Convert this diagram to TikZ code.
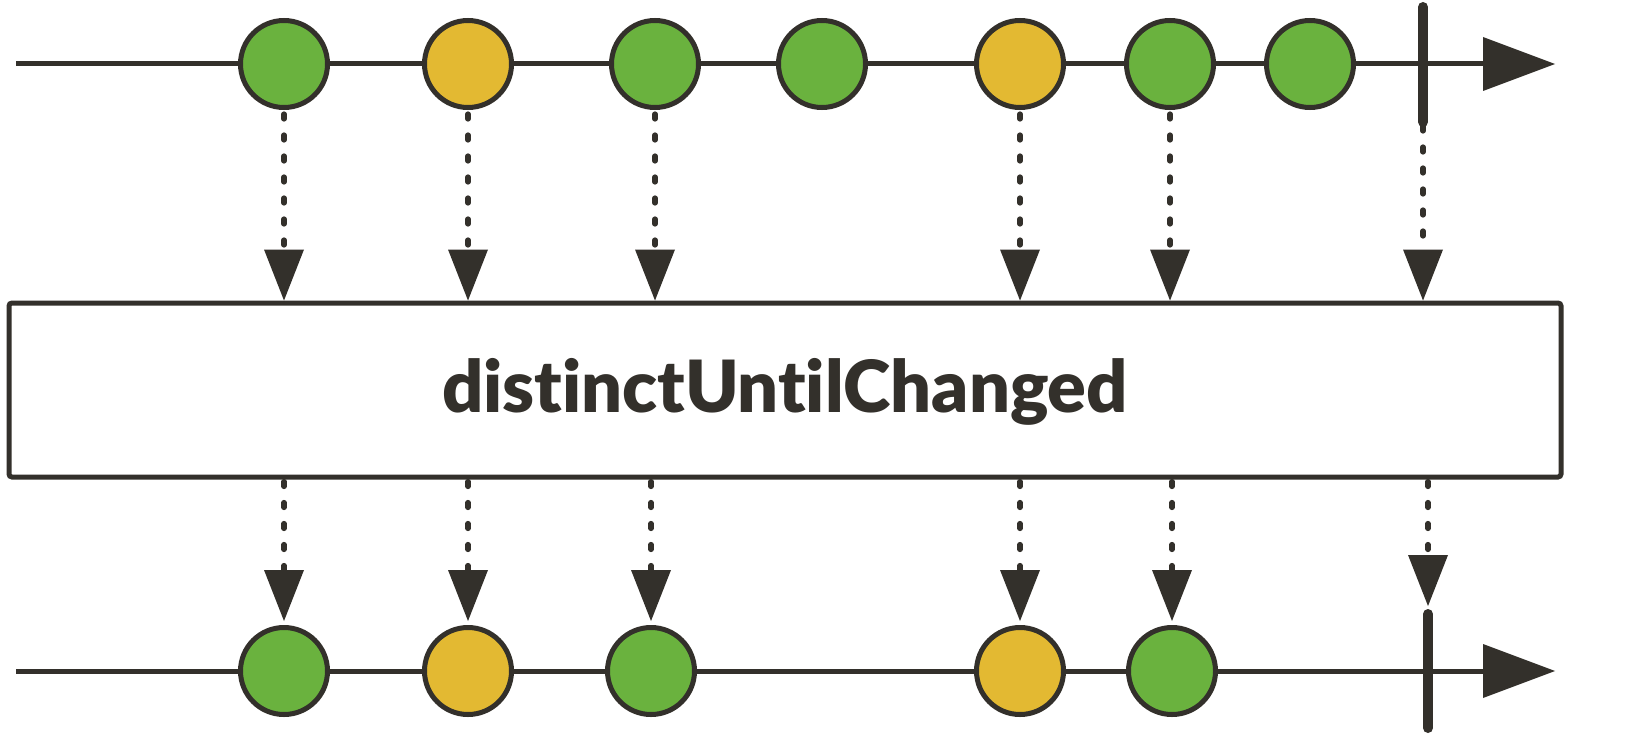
\documentclass[tikz,border=0pt]{standalone}
\usepackage{fontspec}
\setmainfont{Lato}
\newfontfamily\opfont{Lato Black}[Ligatures={NoCommon,NoRequired,NoContextual}]
\usetikzlibrary{arrows.meta}
\definecolor{ink}{HTML}{33302B}
\definecolor{grn}{HTML}{6AB23E}
\definecolor{ylw}{HTML}{E3B932}
\begin{document}
\begin{tikzpicture}[x=0.5pt,y=-0.5pt,
  marble/.style={circle, draw=ink, line width=2.5pt, minimum size=43.5pt, inner sep=0pt},
  gm/.style={marble, fill=grn},
  ym/.style={marble, fill=ylw},
  timeline/.style={draw=ink, line width=2.5pt, -{Triangle[width=27pt,length=36pt,line width=0pt]}},
  endbar/.style={draw=ink, line width=5pt, line cap=round},
  flow/.style={draw=ink, line width=2.6pt, line cap=round, dash pattern=on 2.5pt off 8pt,
               -{Triangle[width=20pt,length=25.5pt,line width=0pt]}},
  opbox/.style={draw=ink, line width=2.5pt, rounded corners=1.5pt, minimum width=776pt,
                minimum height=87pt, fill=white, text=ink, inner sep=0pt,
                font=\opfont\fontsize{36pt}{36pt}\selectfont, text height=22.5pt, text depth=0pt}]
\useasboundingbox (0,0) rectangle (1641,738);
\fill[white] (0,0) rectangle (1641,738);

% timelines
\coordinate (ts) at (16,64);
\coordinate (te) at (1555,64);
\coordinate (bs) at (16,671);
\coordinate (be) at (1555,671);
\draw[timeline] (ts) -- (te);
\draw[timeline] (bs) -- (be);

% completion bars
\coordinate (tb1) at (1423,7);
\coordinate (tb2) at (1423,122);
\coordinate (bb1) at (1428,614);
\coordinate (bb2) at (1428,728);
\draw[endbar] (tb1) -- (tb2);
\draw[endbar] (bb1) -- (bb2);

% top marbles
\node[gm] (t1) at (284,64) {};
\node[ym] (t2) at (468,64) {};
\node[gm] (t3) at (655,64) {};
\node[gm] (t4) at (822,64) {};
\node[ym] (t5) at (1020,64) {};
\node[gm] (t6) at (1170,64) {};
\node[gm] (t7) at (1310,64) {};

% bottom marbles
\node[gm] (b1) at (284,671) {};
\node[ym] (b2) at (468,671) {};
\node[gm] (b3) at (651,671) {};
\node[ym] (b5) at (1020,671) {};
\node[gm] (b6) at (1172,671) {};

% operator box
\node[opbox] (op) at (785,390) {distinctUntilChanged};

% input flows
\foreach \m in {t1,t2,t3,t5,t6}
  \draw[flow] ([yshift=-2pt]\m.south) -- (\m.south |- op.north);
\draw[flow] ([yshift=-2pt]tb2) -- (tb2 |- op.north);

% output flows
\foreach \m in {b1,b2,b3,b5,b6}
  \draw[flow] ([yshift=-1pt]\m.north |- op.south) -- ([yshift=2pt]\m.north);
\draw[flow] ([yshift=-1pt]bb1 |- op.south) -- ([yshift=4pt]bb1);
\end{tikzpicture}
\end{document}
